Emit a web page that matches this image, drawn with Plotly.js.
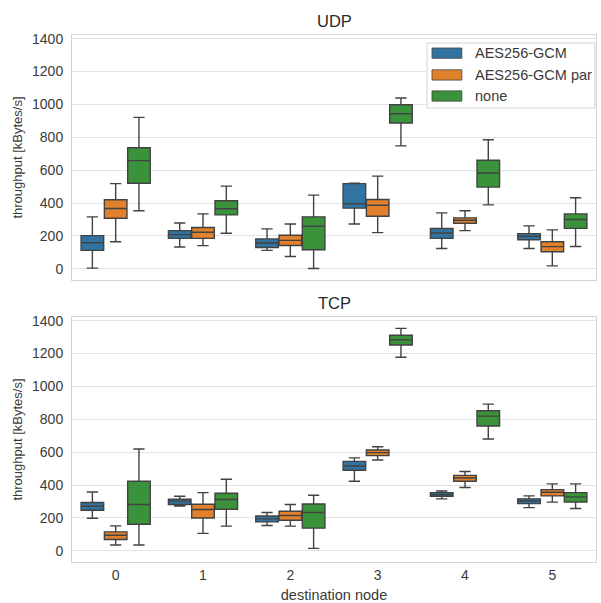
<!DOCTYPE html>
<html><head><meta charset="utf-8">
<script src="https://cdn.plot.ly/plotly-3.0.1.min.js"></script>
<style>html,body{margin:0;padding:0;background:#fff}#chart{width:601px;height:603px}</style>
</head><body><div id="chart"></div>
<script>
const nodes = [0, 1, 2, 3, 4, 5];
const series = ['AES256-GCM', 'AES256-GCM par', 'none'];
const colors = ['#3274A1', '#E1812C', '#3A923A'];

// UDP: lower whisker, q1, median, q3, upper whisker per node
const udpAes = {
  lo: [4, 133, 112, 273, 124, 124],
  q1: [112, 185, 130, 369, 185, 177],
  med: [159, 208, 157, 396, 218, 198],
  q3: [202, 232, 182, 518, 245, 214],
  hi: [316, 279, 243, 520, 340, 261]
};
const udpPar = {
  lo: [165, 141, 75, 220, 232, 18],
  q1: [308, 185, 142, 320, 277, 104],
  med: [367, 222, 173, 387, 295, 135],
  q3: [420, 251, 204, 422, 310, 165],
  hi: [518, 334, 273, 564, 353, 237]
};
const udpNone = {
  lo: [353, 216, 2, 748, 389, 136],
  q1: [520, 328, 116, 887, 497, 246],
  med: [658, 365, 259, 943, 583, 300],
  q3: [736, 414, 316, 998, 660, 334],
  hi: [921, 503, 448, 1039, 785, 432]
};
// TCP
const tcpAes = {
  lo: [198, 273, 154, 423, 316, 263],
  q1: [247, 282, 176, 490, 332, 287],
  med: [271, 302, 194, 516, 342, 303],
  q3: [294, 314, 212, 544, 354, 316],
  hi: [358, 332, 233, 565, 364, 334]
};
const tcpPar = {
  lo: [35, 106, 150, 552, 385, 296],
  q1: [69, 200, 186, 579, 423, 334],
  med: [95, 251, 215, 597, 443, 356],
  q3: [115, 283, 241, 613, 459, 372],
  hi: [152, 354, 282, 633, 482, 407]
};
const tcpNone = {
  lo: [35, 150, 15, 1177, 680, 257],
  q1: [162, 253, 138, 1252, 759, 297],
  med: [282, 312, 233, 1283, 819, 328],
  q3: [423, 350, 285, 1311, 852, 354],
  hi: [619, 435, 338, 1353, 892, 407]
};

const udp = [udpAes, udpPar, udpNone];
const tcp = [tcpAes, tcpPar, tcpNone];

const FONT = 'Liberation Sans, Arial, sans-serif';
const TXT = '#3a3a3a';
const EDGE = '#424242';

const traces = [];
function addSet(sets, xa, ya) {
  sets.forEach((s, i) => {
    traces.push({
      type: 'box',
      name: series[i],
      offsetgroup: 'g' + i,
      showlegend: false,
      x: nodes,
      lowerfence: s.lo, q1: s.q1, median: s.med, q3: s.q3, upperfence: s.hi,
      fillcolor: colors[i],
      line: {color: EDGE, width: 1.4},
      whiskerwidth: 0.5,
      boxpoints: false,
      hoverinfo: 'skip',
      xaxis: xa, yaxis: ya
    });
  });
}
addSet(udp, 'x', 'y');
addSet(tcp, 'x2', 'y2');

const gridC = '#e2e2e2';
const lineC = '#d4d4d4';
const tickFont = {family: FONT, size: 14, color: TXT};
const yRange = [-68, 1422];
const yCommon = {
  range: yRange, tickvals: [0, 200, 400, 600, 800, 1000, 1200, 1400],
  showgrid: true, gridcolor: gridC, gridwidth: 1, zeroline: false,
  showline: true, linecolor: lineC, mirror: true, ticks: '', tickfont: tickFont,
  ticklabelstandoff: 5,
  title: {text: 'throughput [kBytes/s]', font: {family: FONT, size: 13, color: TXT}, standoff: 6}
};
const xCommon = {
  type: 'linear', range: [-0.5, 5.5], tickvals: nodes,
  showgrid: false, zeroline: false, showline: true, linecolor: lineC, mirror: true, ticks: '', tickfont: tickFont
};

// manual legend (matplotlib-style patches) in top-subplot domain coordinates
const shapes = [{
  type: 'rect', xref: 'x domain', yref: 'y domain', x0: 0.6775, x1: 0.998, y0: 0.702, y1: 0.967,
  fillcolor: 'rgba(255,255,255,0.9)', line: {color: '#d4d4d4', width: 1}, layer: 'above'
}];
const annotations = [
  {text: 'UDP', xref: 'paper', yref: 'paper', x: 0.5, y: 1.0266, xanchor: 'center', yanchor: 'middle', showarrow: false, font: {size: 16.5, color: '#2a2a2a', family: FONT}},
  {text: 'TCP', xref: 'paper', yref: 'paper', x: 0.5, y: 0.4915, xanchor: 'center', yanchor: 'middle', showarrow: false, font: {size: 16.5, color: '#2a2a2a', family: FONT}}
];
const rowY = [0.926, 0.837, 0.751];
series.forEach((name, i) => {
  shapes.push({
    type: 'rect', xref: 'x domain', yref: 'y domain', x0: 0.687, x1: 0.744, y0: rowY[i] - 0.021, y1: rowY[i] + 0.021,
    fillcolor: colors[i], line: {color: EDGE, width: 0.8}, layer: 'above'
  });
  annotations.push({
    text: name, xref: 'x domain', yref: 'y domain', x: 0.765, y: rowY[i], xanchor: 'left', yanchor: 'middle',
    showarrow: false, font: {family: FONT, size: 14.5, color: TXT}
  });
});

const layout = {
  width: 601, height: 603,
  margin: {l: 72, r: 5, t: 35, b: 41},
  paper_bgcolor: '#fff', plot_bgcolor: '#fff',
  font: {family: FONT, color: TXT},
  showlegend: false,
  boxmode: 'group', boxgap: 0.2, boxgroupgap: 0.03,
  xaxis: Object.assign({}, xCommon, {anchor: 'y', showticklabels: false}),
  yaxis: Object.assign({}, yCommon, {domain: [0.5351, 1], anchor: 'x'}),
  xaxis2: Object.assign({}, xCommon, {anchor: 'y2', title: {text: 'destination node', font: {family: FONT, size: 14.5, color: TXT}, standoff: 8}}),
  yaxis2: Object.assign({}, yCommon, {domain: [0, 0.4649], anchor: 'x2'}),
  shapes: shapes,
  annotations: annotations
};

Plotly.newPlot('chart', traces, layout, {displayModeBar: false, staticPlot: true});
</script></body></html>
